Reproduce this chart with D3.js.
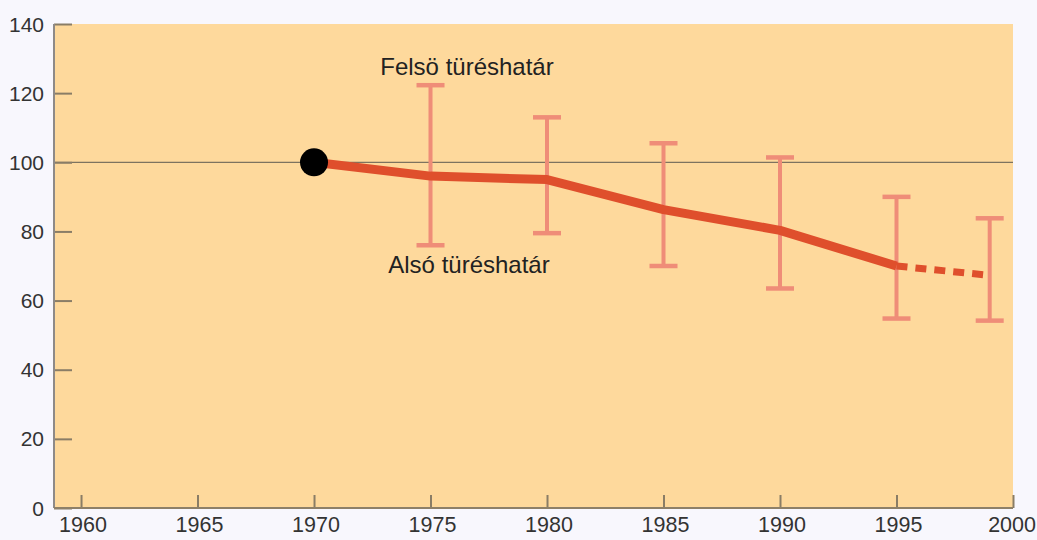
<!DOCTYPE html>
<html><head><meta charset="utf-8">
<script src="https://cdn.jsdelivr.net/npm/d3@7"></script>
<style>body{margin:0;background:#f8f7fd;} svg{display:block;}</style>
</head><body>
<svg id="c" width="1037" height="540"></svg>
<script>
const years = [1970, 1975, 1980, 1985, 1990, 1995];
const values = [100, 96, 95, 86.3, 80.3, 70];
const projYears = [1995, 1999];
const projValues = [70, 67.3];
const barYears = [1975, 1980, 1985, 1990, 1995, 1999];
const barLow = [76, 79.5, 70, 63.5, 54.8, 54.2];
const barHigh = [122.3, 113, 105.5, 101.4, 90, 83.8];
const xTicks = [1960, 1965, 1970, 1975, 1980, 1985, 1990, 1995, 2000];
const yTicks = [0, 20, 40, 60, 80, 100, 120, 140];
const labelUpper = "Felsö türéshatár";
const labelLower = "Alsó türéshatár";

const svg = d3.select("#c");
const L = 54, R = 1013, T = 24, B = 508;
const FONT = "Liberation Sans, Arial, sans-serif";
const x = d3.scaleLinear().domain([1958.84, 2000]).range([L, R]);
const y = d3.scaleLinear().domain([0, 140]).range([B, T]);

svg.append("rect").attr("x", L).attr("y", T).attr("width", R - L).attr("height", B - T).attr("fill", "#fed99c");

// reference line at 100
svg.append("line").attr("x1", L).attr("x2", R).attr("y1", y(100)).attr("y2", y(100))
  .attr("stroke", "#7d735f").attr("stroke-width", 1.3);

// y axis
const yAx = svg.append("g").attr("transform", `translate(${L},0)`)
  .call(d3.axisRight(y).tickValues(yTicks).tickSize(18).tickFormat(""));
yAx.select(".domain").remove();
yAx.selectAll(".tick line").attr("stroke", "#8a7d66").attr("stroke-width", 2);
svg.append("line").attr("x1", L).attr("x2", L).attr("y1", T).attr("y2", B).attr("stroke", "#8e8a88").attr("stroke-width", 2);
svg.selectAll(".ylab").data(yTicks).join("text").attr("class", "ylab")
  .attr("x", 44).attr("y", d => y(d) + 7.5).attr("text-anchor", "end")
  .attr("font-family", FONT).attr("font-size", 21).attr("fill", "#333")
  .text(d => d);

// x axis
const xAx = svg.append("g").attr("transform", `translate(0,${B})`)
  .call(d3.axisTop(x).tickValues(xTicks).tickSize(13).tickFormat(""));
xAx.select(".domain").remove();
xAx.selectAll(".tick line").attr("stroke", "#8a7d66").attr("stroke-width", 2);
svg.append("line").attr("x1", L).attr("x2", R).attr("y1", B).attr("y2", B).attr("stroke", "#8e8068").attr("stroke-width", 2);
svg.selectAll(".xlab").data(xTicks).join("text").attr("class", "xlab")
  .attr("x", (d, i) => i === xTicks.length - 1 ? 1036 : x(d) + 2).attr("y", 532)
  .attr("text-anchor", (d, i) => i === xTicks.length - 1 ? "end" : "middle")
  .attr("font-family", FONT).attr("font-size", 21.5).attr("fill", "#333")
  .text(d => d);

// error bars
const barColor = "#ef8d78";
const bars = svg.append("g").selectAll("g").data(barYears).join("g");
bars.append("line").attr("x1", d => x(d)).attr("x2", d => x(d))
  .attr("y1", (d, i) => y(barHigh[i])).attr("y2", (d, i) => y(barLow[i]))
  .attr("stroke", barColor).attr("stroke-width", 4);
bars.append("line").attr("x1", d => x(d) - 14).attr("x2", d => x(d) + 14)
  .attr("y1", (d, i) => y(barHigh[i])).attr("y2", (d, i) => y(barHigh[i]))
  .attr("stroke", barColor).attr("stroke-width", 4.5);
bars.append("line").attr("x1", d => x(d) - 14).attr("x2", d => x(d) + 14)
  .attr("y1", (d, i) => y(barLow[i])).attr("y2", (d, i) => y(barLow[i]))
  .attr("stroke", barColor).attr("stroke-width", 4.5);

// main line
const lineGen = d3.line().x(d => x(d[0])).y(d => y(d[1])).curve(d3.curveLinear);
svg.append("path").datum(years.map((d, i) => [d, values[i]]))
  .attr("d", lineGen).attr("fill", "none").attr("stroke", "#df4f2c").attr("stroke-width", 9)
  .attr("stroke-linejoin", "round");
svg.append("path").datum(projYears.map((d, i) => [d, projValues[i]]))
  .attr("d", lineGen).attr("fill", "none").attr("stroke", "#df4f2c").attr("stroke-width", 7)
  .attr("stroke-dasharray", "11,8");

// start dot
svg.append("circle").attr("cx", x(years[0])).attr("cy", y(values[0])).attr("r", 14).attr("fill", "#000");

// labels
svg.append("text").attr("x", 467).attr("y", 75).attr("text-anchor", "middle")
  .attr("font-family", FONT).attr("font-size", 24).attr("fill", "#222")
  .text(labelUpper);
svg.append("text").attr("x", 469).attr("y", 273).attr("text-anchor", "middle")
  .attr("font-family", FONT).attr("font-size", 24).attr("fill", "#222")
  .text(labelLower);
</script>
</body></html>
